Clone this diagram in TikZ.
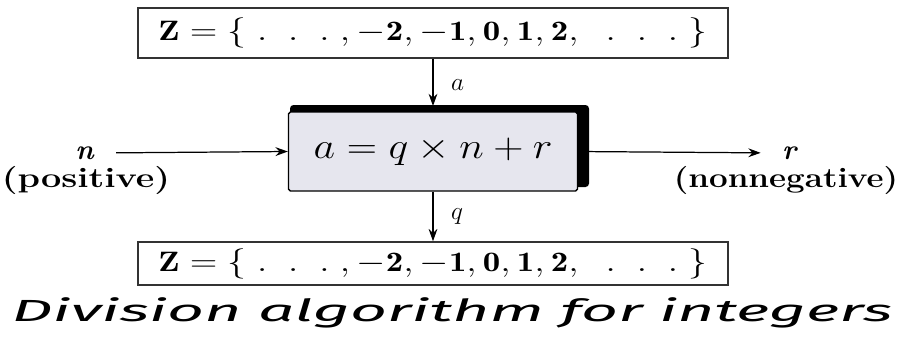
\documentclass[tikz,border=0pt]{standalone}
\usepackage{fontspec}
\newfontfamily\didafont{Fira Sans}
\usetikzlibrary{arrows.meta}
\definecolor{grigio}{RGB}{230,230,238}
\newcommand{\interi}{\scalebox{1.24}[1]{\fontsize{16}{19}\selectfont
  $\mathbf{Z}={\{}\;.\;\;.\;\;.\;,\mathbf{-2},\mathbf{-1},\mathbf{0},\mathbf{1},\mathbf{2},\;\;.\;\;.\;\;.\;\}$}}
\begin{document}
\begin{tikzpicture}[
		x=0.02cm, y=-0.02cm,
		insieme/.style={draw=black!80, line width=0.9pt, minimum width=11.8cm,
			inner sep=0pt},
		scatola/.style={draw=black, line width=0.8pt, fill=grigio,
			minimum width=5.78cm, minimum height=1.58cm, inner sep=0pt,
			rounded corners=1pt},
		freccia/.style={line width=0.7pt, -{Stealth[length=7pt,width=5pt]}},
		etich/.style={font=\fontsize{14}{16}\selectfont, inner sep=0pt},
		spieg/.style={font=\bfseries\fontsize{16}{19}\selectfont, inner sep=0pt},
		]
		\useasboundingbox (0,0) rectangle (904,336);
		
		%% insiemi degli interi
		\node[insieme, minimum height=1cm] (Zsu) at (433,33) {\interi};
		\node[insieme, minimum height=0.86cm] (Zgiu) at (433,263.5) {\interi};
		
		%% blocco della divisione, con il fianco scuro
		\fill[black, rounded corners=2pt] (290,105) rectangle (589,187);
		\node[scatola] (eq) at (433,151.5)
			{\scalebox{1.15}[1]{\fontsize{20}{24}\selectfont$a=q\times n+r$}};
		
		%% ingresso e uscita
		\node[spieg] (nin) at (85,153) {\textit{n}};
		\node[spieg] (pos) at (86,180) {\scalebox{1.28}[1]{(positive)}};
		\node[spieg] (rout) at (790,153) {\textit{r}};
		\node[spieg] (nonneg) at (786,180) {\scalebox{1.18}[1]{(nonnegative)}};
		
		%% frecce
		\draw[freccia, shorten <=12pt] (nin.east) -- (eq.west);
		\draw[freccia, shorten <=5.7pt, shorten >=12pt] (eq.east) -- (rout.west);
		\draw[freccia, shorten >=3pt] (Zsu) -- node[etich, right, xshift=10pt] {$a$} (eq);
		\draw[freccia] (eq) -- node[etich, right, xshift=10pt] {$q$} (Zgiu);
		
		%% didascalia
		\node (didasc) at (452,313)
			{\didafont\itshape\fontsize{17.4}{20}\selectfont
			\scalebox{2.1}[1]{Division algorithm for integers}};
\end{tikzpicture}
\end{document}
